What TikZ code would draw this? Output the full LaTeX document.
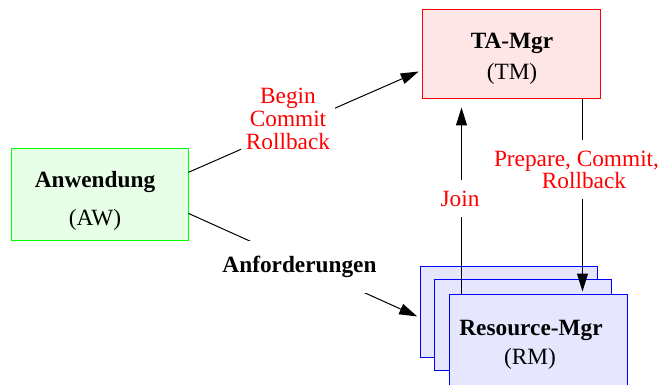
\documentclass[tikz,border=0pt]{standalone}
\usepackage{fontspec}
\setmainfont{Liberation Serif}
\usetikzlibrary{arrows.meta}
\definecolor{awline}{RGB}{0,255,0}
\definecolor{awfill}{RGB}{230,255,230}
\definecolor{tmline}{RGB}{255,0,0}
\definecolor{tmfill}{RGB}{255,230,230}
\definecolor{rmline}{RGB}{0,0,255}
\definecolor{rmfill}{RGB}{230,230,255}
\definecolor{labred}{RGB}{255,0,0}
\begin{document}
\begin{tikzpicture}[x=1pt,y=-1pt,
  every node/.style={font=\fontsize{23.3}{23}\selectfont},
  box/.style={draw, line width=1pt, inner sep=0pt, minimum width=177pt, minimum height=91pt},
  awbox/.style={box, draw=awline, fill=awfill},
  tmbox/.style={box, draw=tmline, fill=tmfill, minimum width=178pt, minimum height=89pt},
  rmbox/.style={box, draw=rmline, fill=rmfill, minimum width=177pt},
  title/.style={anchor=base, inner sep=0pt, font=\fontsize{23.3}{23}\selectfont\bfseries},
  sub/.style={anchor=base, inner sep=0pt},
  link/.style={line width=1pt, black},
  conn/.style={link, -{Triangle[length=18pt,width=11pt]}},
  lab/.style={text=labred, fill=white, align=center, inner xsep=3pt}
]
\useasboundingbox (0,0) rectangle (664,385);

% Application
\node[awbox] (aw) at (99.5,194.5) {};
\node[title] (awtitle) at (95,187) {Anwendung};
\node[sub] (awsub) at (95,225) {(AW)};

% Transaction manager
\node[tmbox] (tm) at (511,54.5) {};
\node[title] (tmtitle) at (512,49) {TA-Mgr};
\node[sub] (tmsub) at (512,80) {(TM)};

% Stack of resource managers
\node[rmbox] (rm1) at (509,311.5) {};
\node[rmbox] (rm2) at (522.5,324.5) {};
\node[rmbox, minimum width=178pt, minimum height=94pt] (rm3) at (538,341) {};
\node[title] (rmtitle) at (531,335) {Resource-Mgr};
\node[sub] (rmsub) at (530,364) {(RM)};

% Connectors
\draw[conn, shorten >=3pt] (aw.14) -- (tm.190);
\draw[conn, shorten >=3pt] (aw.-12) -- (rm1.184);
\coordinate (joinfoot) at ([xshift=13pt]rm3.north west);
\draw[conn, shorten >=8pt] (joinfoot) -- (joinfoot |- tm.south);
\coordinate (prepfoot) at ([xshift=-18pt]tm.south east);
\draw[conn, shorten >=2pt] (prepfoot) -- (prepfoot |- rm3.north);

% Connector labels
\node[lab, inner ysep=4pt, inner xsep=5pt] (bcr) at (288,118.7) {Begin\\Commit\\Rollback};
\node[lab, text=black, font=\fontsize{23.3}{23}\selectfont\bfseries,
      inner ysep=15.5pt, inner xsep=2pt] (anf) at (299.5,267) {Anforderungen};
\node[lab, inner ysep=10.5pt] (join) at (460,198.7) {Join};
\node[lab, inner ysep=10.5pt, inner xsep=1pt,
      font=\fontsize{23.3}{22}\selectfont] (prep) at (576.5,169.7) {Prepare, Commit,\\\hspace*{15pt}Rollback};
\end{tikzpicture}
\end{document}
